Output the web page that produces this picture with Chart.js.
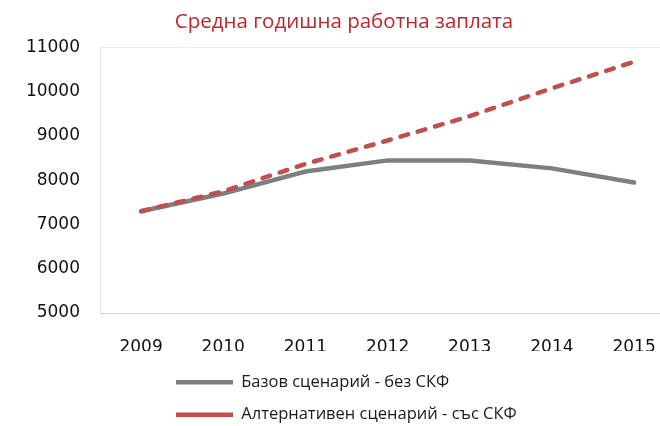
<!DOCTYPE html>
<html>
<head>
<meta charset="utf-8">
<script src="https://cdn.jsdelivr.net/npm/chart.js@4.4.1/dist/chart.umd.min.js"></script>
<style>
    html, body { margin: 0; padding: 0; background: #fff; width: 660px; height: 426px; overflow: hidden; }
    #wrap { position: absolute; left: 12px; top: 0; width: 668px; height: 426px; }
</style>
</head>
<body>
<div id="wrap"><canvas id="wageChart" width="668" height="426"></canvas></div>
<script>
// Données
const YEARS = ["2009", "2010", "2011", "2012", "2013", "2014", "2015"];
const BASE_VALUES = [7300, 7700, 8200, 8450, 8450, 8270, 7950];
const ALT_VALUES = [7300, 7750, 8370, 8900, 9450, 10080, 10680];
const Y_MIN = 5000;
const Y_MAX = 11000;
const Y_STEP = 1000;

const TITLE = "Средна годишна работна заплата";
const BASE_LABEL = "Базов сценарий - без СКФ";
const ALT_LABEL = "Алтернативен сценарий - със СКФ";

// Position de la légende (Excel la place sous le graphique, à gauche)
const LEGEND_LEFT = 148;
const LEGEND_DOWN = 7;

const legendShift = {
    id: "legendShift",
    afterLayout(chart) {
        const l = chart.legend;
        if (!l) return;
        const w = l.right - l.left;
        l.left = LEGEND_LEFT;
        l.right = LEGEND_LEFT + w;
        l.top += LEGEND_DOWN;
        l.bottom += LEGEND_DOWN;
    },
};

document.addEventListener("DOMContentLoaded", function () {
    const ctx = document.getElementById("wageChart").getContext("2d");
    new Chart(ctx, {
        type: "line",
        data: {
            labels: YEARS,
            datasets: [
                {
                    label: BASE_LABEL,
                    data: BASE_VALUES,
                    borderColor: "#7f7f7f",
                    backgroundColor: "#7f7f7f",
                    borderWidth: 4.5,
                    borderCapStyle: "round",
                    pointRadius: 0,
                    tension: 0,
                    order: 1,
                },
                {
                    label: ALT_LABEL,
                    data: ALT_VALUES,
                    borderColor: "#c0504d",
                    backgroundColor: "#c0504d",
                    borderWidth: 4.5,
                    borderDash: [8, 10],
                    borderCapStyle: "round",
                    pointRadius: 0,
                    tension: 0,
                    order: 0,
                },
            ],
        },
        options: {
            responsive: false,
            animation: false,
            layout: { padding: { left: 0, right: 4, top: 0, bottom: 0 } },
            plugins: {
                title: {
                    display: true,
                    text: TITLE,
                    color: "#c0272d",
                    font: { family: "Open Sans", size: 20.5, weight: "normal", lineHeight: 1.2 },
                    padding: { top: 10, bottom: 13 },
                },
                legend: {
                    position: "bottom",
                    align: "start",
                    fullSize: false,
                    labels: {
                        usePointStyle: true,
                        pointStyle: "line",
                        pointStyleWidth: 57,
                        padding: 16,
                        color: "#1a1a1a",
                        font: { family: "Open Sans", size: 16.5 },
                        sort: (a, b) => a.datasetIndex - b.datasetIndex,
                    },
                },
                tooltip: { enabled: false },
            },
            scales: {
                x: {
                    offset: true,
                    grid: { display: false, drawTicks: false },
                    border: { color: "#d4d4d4", width: 1 },
                    ticks: {
                        color: "#111",
                        font: { family: "DejaVu Sans", size: 17 },
                        padding: 24,
                        maxRotation: 0,
                        autoSkip: false,
                    },
                    afterFit(scale) {
                        scale.height = 38;
                    },
                },
                y: {
                    min: Y_MIN,
                    max: Y_MAX,
                    grid: {
                        drawTicks: false,
                        color: (c) => (c.tick && c.tick.value === Y_MAX ? "#eeeeee" : "rgba(0,0,0,0)"),
                    },
                    border: { color: "#e2e2e2", width: 1 },
                    ticks: {
                        stepSize: Y_STEP,
                        color: "#111",
                        font: { family: "DejaVu Sans", size: 17 },
                        padding: 20,
                        callback: (v) => String(v),
                    },
                    afterFit(scale) {
                        scale.width = 88;
                    },
                },
            },
        },
        plugins: [legendShift],
    });
});
</script>
</body>
</html>
